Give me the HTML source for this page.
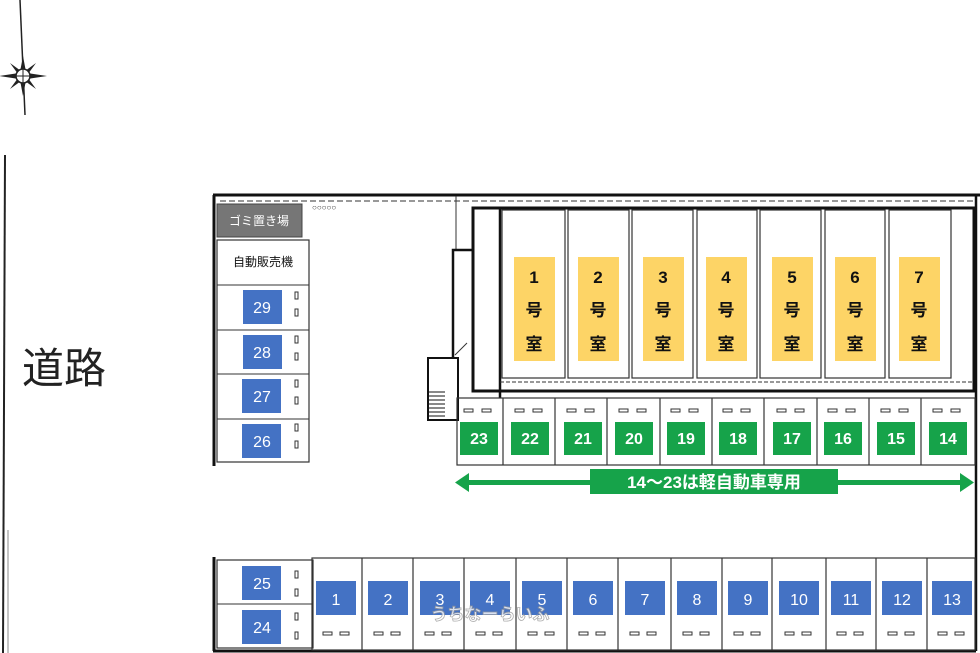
<!DOCTYPE html>
<html><head><meta charset="utf-8">
<style>
html,body{margin:0;padding:0;background:#fff;}
svg{display:block;}
text{font-family:"Liberation Sans","Noto Sans CJK JP",sans-serif;}
.bl{fill:#4472c4;}
.gr{fill:#16a34a;}
.bt{fill:#fff;font-size:16px;text-anchor:middle;}
.gt{fill:#fff;font-size:16px;font-weight:bold;text-anchor:middle;}
.yt{fill:#111;font-size:17px;font-weight:bold;text-anchor:middle;}
.cell{fill:#fff;stroke:#333;stroke-width:1.2;}
.dash{fill:#fff;stroke:#333;stroke-width:1;}
</style></head>
<body>
<svg width="980" height="653" viewBox="0 0 980 653" xmlns="http://www.w3.org/2000/svg">
<line x1="20" y1="0" x2="25" y2="115" stroke="#222" stroke-width="1.5"/>
<g transform="translate(23,76)" fill="#222">
<polygon points="0,-20 3,-4 0,0 -3,-4"/>
<polygon points="0,20 3,4 0,0 -3,4"/>
<polygon points="-24,0 -4,-3 0,0 -4,3"/>
<polygon points="24,0 4,-3 0,0 4,3"/>
<polygon points="-13,-13 -2,-5 -5,-2"/>
<polygon points="13,-13 2,-5 5,-2"/>
<polygon points="-13,13 -2,5 -5,2"/>
<polygon points="13,13 2,5 5,2"/>
<circle r="7" fill="#fff" stroke="#222" stroke-width="1.5"/>
<line x1="-9" y1="0" x2="9" y2="0" stroke="#222"/>
<line x1="0" y1="-9" x2="0" y2="9" stroke="#222"/>
</g>
<line x1="5" y1="155" x2="3" y2="653" stroke="#222" stroke-width="2"/>
<line x1="8" y1="530" x2="8" y2="653" stroke="#888" stroke-width="1"/>
<text x="22" y="383" font-size="42" fill="#222">道路</text>

<line x1="213" y1="195" x2="980" y2="195" stroke="#111" stroke-width="3"/>
<line x1="220" y1="201" x2="975" y2="201" stroke="#333" stroke-width="1" stroke-dasharray="6,3"/>
<line x1="214" y1="195" x2="214" y2="466" stroke="#111" stroke-width="3"/>
<line x1="214" y1="557" x2="214" y2="651" stroke="#111" stroke-width="3"/>
<line x1="213" y1="651" x2="976" y2="651" stroke="#111" stroke-width="3"/>
<line x1="976" y1="195" x2="976" y2="651" stroke="#111" stroke-width="2.5"/>
<line x1="456" y1="196" x2="456" y2="250" stroke="#333" stroke-width="1"/>
<text x="312" y="210" font-size="8" fill="#333">○○○○○</text>

<rect x="217" y="204" width="85" height="33" fill="#767676" stroke="#444"/>
<text x="259" y="225" font-size="12" fill="#fff" text-anchor="middle">ゴミ置き場</text>
<rect x="217" y="240" width="92" height="222" fill="#fff" stroke="#333" stroke-width="1.2"/>
<text x="263" y="266" font-size="12" fill="#111" text-anchor="middle">自動販売機</text>
<line x1="217" y1="285" x2="309" y2="285" stroke="#333"/>
<line x1="217" y1="330" x2="309" y2="330" stroke="#333"/>
<line x1="217" y1="374" x2="309" y2="374" stroke="#333"/>
<line x1="217" y1="419" x2="309" y2="419" stroke="#333"/>
<g>
<rect class="bl" x="243" y="290" width="39" height="34"/><text class="bt" x="262" y="313">29</text>
<rect class="bl" x="243" y="335" width="39" height="34"/><text class="bt" x="262" y="358">28</text>
<rect class="bl" x="242" y="379" width="39" height="34"/><text class="bt" x="262" y="402">27</text>
<rect class="bl" x="242" y="424" width="39" height="34"/><text class="bt" x="262" y="447">26</text>
</g>
<g class="dash">
<rect x="295" y="292" width="3" height="7"/><rect x="295" y="309" width="3" height="7"/>
<rect x="295" y="336" width="3" height="7"/><rect x="295" y="353" width="3" height="7"/>
<rect x="295" y="380" width="3" height="7"/><rect x="295" y="397" width="3" height="7"/>
<rect x="295" y="424" width="3" height="7"/><rect x="295" y="441" width="3" height="7"/>
</g>

<rect x="473" y="208" width="501" height="183" fill="none" stroke="#111" stroke-width="3"/>
<polyline points="473,208 473,250 453,250 453,358" fill="none" stroke="#111" stroke-width="2.5"/>
<rect x="428" y="358" width="30" height="62" fill="none" stroke="#111" stroke-width="2"/>
<g stroke="#111" stroke-width="1">
<line x1="429" y1="392" x2="445" y2="392"/><line x1="429" y1="396" x2="445" y2="396"/><line x1="429" y1="400" x2="445" y2="400"/><line x1="429" y1="404" x2="445" y2="404"/><line x1="429" y1="408" x2="445" y2="408"/><line x1="429" y1="412" x2="445" y2="412"/><line x1="429" y1="416" x2="445" y2="416"/>
</g>
<line x1="455" y1="355" x2="467" y2="343" stroke="#333"/>
<line x1="500" y1="208" x2="500" y2="398" stroke="#111" stroke-width="2.5"/>
<line x1="500" y1="382" x2="972" y2="382" stroke="#333" stroke-dasharray="4,2"/>
<g class="cell">
<rect x="502" y="210" width="63" height="168"/>
<rect x="568" y="210" width="61" height="168"/>
<rect x="632" y="210" width="61" height="168"/>
<rect x="697" y="210" width="60" height="168"/>
<rect x="760" y="210" width="61" height="168"/>
<rect x="825" y="210" width="60" height="168"/>
<rect x="889" y="210" width="62" height="168"/>
</g>
<g fill="#fdd466">
<rect x="514" y="257" width="41" height="104"/>
<rect x="578" y="257" width="41" height="104"/>
<rect x="643" y="257" width="41" height="104"/>
<rect x="706" y="257" width="41" height="104"/>
<rect x="772" y="257" width="41" height="104"/>
<rect x="835" y="257" width="41" height="104"/>
<rect x="899" y="257" width="41" height="104"/>
</g>
<g class="yt">
<text x="534" y="283">1</text><text x="534" y="316">号</text><text x="534" y="350">室</text>
<text x="598" y="283">2</text><text x="598" y="316">号</text><text x="598" y="350">室</text>
<text x="663" y="283">3</text><text x="663" y="316">号</text><text x="663" y="350">室</text>
<text x="726" y="283">4</text><text x="726" y="316">号</text><text x="726" y="350">室</text>
<text x="792" y="283">5</text><text x="792" y="316">号</text><text x="792" y="350">室</text>
<text x="855" y="283">6</text><text x="855" y="316">号</text><text x="855" y="350">室</text>
<text x="919" y="283">7</text><text x="919" y="316">号</text><text x="919" y="350">室</text>
</g>

<rect x="457" y="398" width="518" height="67" fill="none" stroke="#333" stroke-width="1.2"/>
<g stroke="#333" stroke-width="1.2">
<line x1="503" y1="398" x2="503" y2="465"/><line x1="555" y1="398" x2="555" y2="465"/><line x1="607" y1="398" x2="607" y2="465"/><line x1="660" y1="398" x2="660" y2="465"/><line x1="712" y1="398" x2="712" y2="465"/><line x1="764" y1="398" x2="764" y2="465"/><line x1="817" y1="398" x2="817" y2="465"/><line x1="869" y1="398" x2="869" y2="465"/><line x1="921" y1="398" x2="921" y2="465"/>
</g>
<g class="gr">
<rect x="460" y="422" width="38" height="33"/><rect x="511" y="422" width="38" height="33"/><rect x="564" y="422" width="38" height="33"/><rect x="615" y="422" width="38" height="33"/><rect x="667" y="422" width="38" height="33"/><rect x="719" y="422" width="38" height="33"/><rect x="773" y="422" width="38" height="33"/><rect x="824" y="422" width="38" height="33"/><rect x="877" y="422" width="38" height="33"/><rect x="929" y="422" width="38" height="33"/>
</g>
<g class="gt">
<text x="479" y="444">23</text><text x="530" y="444">22</text><text x="583" y="444">21</text><text x="634" y="444">20</text><text x="686" y="444">19</text><text x="738" y="444">18</text><text x="792" y="444">17</text><text x="843" y="444">16</text><text x="896" y="444">15</text><text x="948" y="444">14</text>
</g>
<g class="dash">
<rect x="464" y="409" width="9" height="3"/><rect x="482" y="409" width="9" height="3"/>
<rect x="515" y="409" width="9" height="3"/><rect x="533" y="409" width="9" height="3"/>
<rect x="567" y="409" width="9" height="3"/><rect x="585" y="409" width="9" height="3"/>
<rect x="619" y="409" width="9" height="3"/><rect x="637" y="409" width="9" height="3"/>
<rect x="671" y="409" width="9" height="3"/><rect x="689" y="409" width="9" height="3"/>
<rect x="723" y="409" width="9" height="3"/><rect x="741" y="409" width="9" height="3"/>
<rect x="777" y="409" width="9" height="3"/><rect x="795" y="409" width="9" height="3"/>
<rect x="828" y="409" width="9" height="3"/><rect x="846" y="409" width="9" height="3"/>
<rect x="881" y="409" width="9" height="3"/><rect x="899" y="409" width="9" height="3"/>
<rect x="933" y="409" width="9" height="3"/><rect x="951" y="409" width="9" height="3"/>
</g>
<rect x="466" y="480" width="498" height="5" fill="#16a34a"/>
<polygon points="455,482.5 469,473 469,492" fill="#16a34a"/>
<polygon points="974,482.5 960,473 960,492" fill="#16a34a"/>
<rect x="590" y="469" width="248" height="25" fill="#16a34a"/>
<text x="714" y="488" font-size="17" font-weight="bold" fill="#fff" text-anchor="middle">14～23は軽自動車専用</text>

<rect x="217" y="560" width="96" height="88" fill="#fff" stroke="#333" stroke-width="1.2"/>
<line x1="217" y1="604" x2="313" y2="604" stroke="#333"/>
<rect class="bl" x="242" y="566" width="39" height="34"/><text class="bt" x="262" y="589">25</text>
<rect class="bl" x="242" y="610" width="39" height="34"/><text class="bt" x="262" y="633">24</text>
<g class="dash">
<rect x="295" y="571" width="3" height="7"/><rect x="295" y="589" width="3" height="7"/>
<rect x="295" y="613" width="3" height="7"/><rect x="295" y="632" width="3" height="7"/>
</g>
<rect x="312" y="558" width="663" height="92" fill="none" stroke="#333" stroke-width="1.2"/>
<g stroke="#333" stroke-width="1.2">
<line x1="362" y1="558" x2="362" y2="650"/><line x1="413" y1="558" x2="413" y2="650"/><line x1="464" y1="558" x2="464" y2="650"/><line x1="516" y1="558" x2="516" y2="650"/><line x1="567" y1="558" x2="567" y2="650"/><line x1="618" y1="558" x2="618" y2="650"/><line x1="671" y1="558" x2="671" y2="650"/><line x1="722" y1="558" x2="722" y2="650"/><line x1="772" y1="558" x2="772" y2="650"/><line x1="826" y1="558" x2="826" y2="650"/><line x1="876" y1="558" x2="876" y2="650"/><line x1="927" y1="558" x2="927" y2="650"/>
</g>
<g class="bl">
<rect x="316" y="581" width="40" height="34"/><rect x="368" y="581" width="40" height="34"/><rect x="420" y="581" width="40" height="34"/><rect x="470" y="581" width="40" height="34"/><rect x="522" y="581" width="40" height="34"/><rect x="573" y="581" width="40" height="34"/><rect x="625" y="581" width="40" height="34"/><rect x="677" y="581" width="40" height="34"/><rect x="728" y="581" width="40" height="34"/><rect x="779" y="581" width="40" height="34"/><rect x="831" y="581" width="40" height="34"/><rect x="882" y="581" width="40" height="34"/><rect x="932" y="581" width="40" height="34"/>
</g>
<g class="bt">
<text x="336" y="605">1</text><text x="388" y="605">2</text><text x="440" y="605">3</text><text x="490" y="605">4</text><text x="542" y="605">5</text><text x="593" y="605">6</text><text x="645" y="605">7</text><text x="697" y="605">8</text><text x="748" y="605">9</text><text x="799" y="605">10</text><text x="851" y="605">11</text><text x="902" y="605">12</text><text x="952" y="605">13</text>
</g>
<g class="dash">
<rect x="323" y="632" width="9" height="3"/><rect x="340" y="632" width="9" height="3"/>
<rect x="374" y="632" width="9" height="3"/><rect x="391" y="632" width="9" height="3"/>
<rect x="425" y="632" width="9" height="3"/><rect x="442" y="632" width="9" height="3"/>
<rect x="476" y="632" width="9" height="3"/><rect x="493" y="632" width="9" height="3"/>
<rect x="528" y="632" width="9" height="3"/><rect x="545" y="632" width="9" height="3"/>
<rect x="579" y="632" width="9" height="3"/><rect x="596" y="632" width="9" height="3"/>
<rect x="630" y="632" width="9" height="3"/><rect x="647" y="632" width="9" height="3"/>
<rect x="683" y="632" width="9" height="3"/><rect x="700" y="632" width="9" height="3"/>
<rect x="734" y="632" width="9" height="3"/><rect x="751" y="632" width="9" height="3"/>
<rect x="785" y="632" width="9" height="3"/><rect x="802" y="632" width="9" height="3"/>
<rect x="837" y="632" width="9" height="3"/><rect x="854" y="632" width="9" height="3"/>
<rect x="888" y="632" width="9" height="3"/><rect x="905" y="632" width="9" height="3"/>
<rect x="938" y="632" width="9" height="3"/><rect x="955" y="632" width="9" height="3"/>
</g>
<text x="490" y="620" font-size="17" font-weight="bold" fill="#fff" stroke="#999" stroke-width="0.8" text-anchor="middle" opacity="0.8">うちなーらいふ</text>
</svg>
</body></html>
